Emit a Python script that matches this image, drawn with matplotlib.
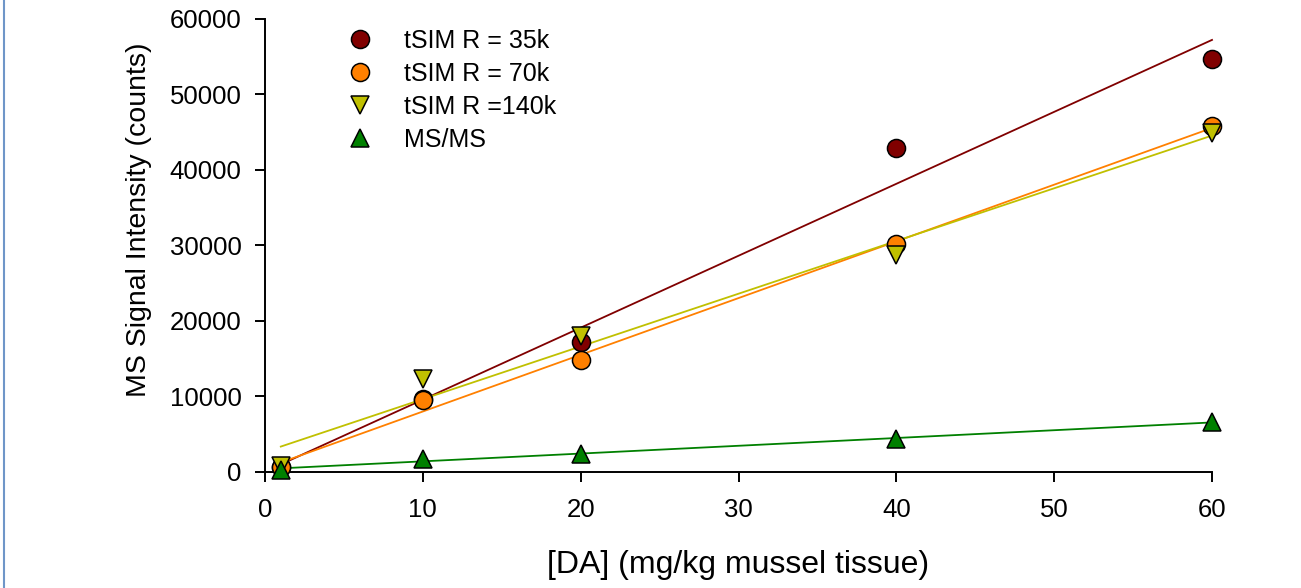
import numpy as np
import matplotlib.pyplot as plt
from matplotlib.lines import Line2D

plt.rcParams["font.family"] = ["Liberation Sans", "DejaVu Sans"]

conc = [1, 10, 20, 40, 60]
r35k = [600, 9700, 17200, 42900, 54700]
r70k = [600, 9500, 14800, 30200, 45800]
r140k = [800, 12300, 18000, 28800, 44900]
msms = [300, 1700, 2400, 4400, 6600]

labels = ["tSIM R = 35k", "tSIM R = 70k", "tSIM R =140k", "MS/MS"]
series = [r35k, r70k, r140k, msms]
colors = ["#800000", "#ff8000", "#c0c000", "#008000"]
markers = ["o", "o", "v", "^"]

fig = plt.figure(figsize=(13.01, 5.88), dpi=100)
ax = fig.add_axes([0.2037, 0.1973, 0.7279, 0.7704])

x = np.array(conc, dtype=float)
xfit = np.array([x.min(), x.max()])

# regression lines first, markers on top
for y, c in zip(series, colors):
    k, b = np.polyfit(x, np.array(y, dtype=float), 1)
    ax.plot(xfit, k * xfit + b, color=c, lw=1.3, zorder=2, clip_on=False)

handles = []
for y, c, m, lab in zip(series, colors, markers, labels):
    h, = ax.plot(x, y, linestyle="none", marker=m, ms=13, mfc=c, mec="black",
                 mew=1.1, zorder=3, clip_on=False, label=lab)
    handles.append(h)

ax.set_xlim(0, 60)
ax.set_ylim(0, 60000)
ax.set_xticks(np.arange(0, 61, 10))
ax.set_yticks(np.arange(0, 60001, 10000))

for s in ["top", "right"]:
    ax.spines[s].set_visible(False)
for s in ["left", "bottom"]:
    ax.spines[s].set_linewidth(1.4)

ax.tick_params(direction="out", length=7, width=1.4, labelsize=18.5)
ax.tick_params(axis="y", pad=10)
ax.tick_params(axis="x", pad=12)

ax.set_xlabel("[DA] (mg/kg mussel tissue)", fontsize=23)
ax.set_ylabel("MS Signal Intensity (counts)", fontsize=20.5)
ax.xaxis.set_label_coords(0.5, -0.172)
ax.yaxis.set_label_coords(-0.119, 0.556)

ax.legend(handles=handles, loc="upper left", bbox_to_anchor=(0.0766, 1.001),
          frameon=False, fontsize=18, numpoints=1, handlelength=1.0,
          handletextpad=1.26, labelspacing=0.36, borderaxespad=0)

# blue frame edge on the left
fig.add_artist(Line2D([4 / 1301, 4 / 1301], [0, 1], color="#6f96c8", lw=1.5))

fig.savefig("out.png", dpi=100)
